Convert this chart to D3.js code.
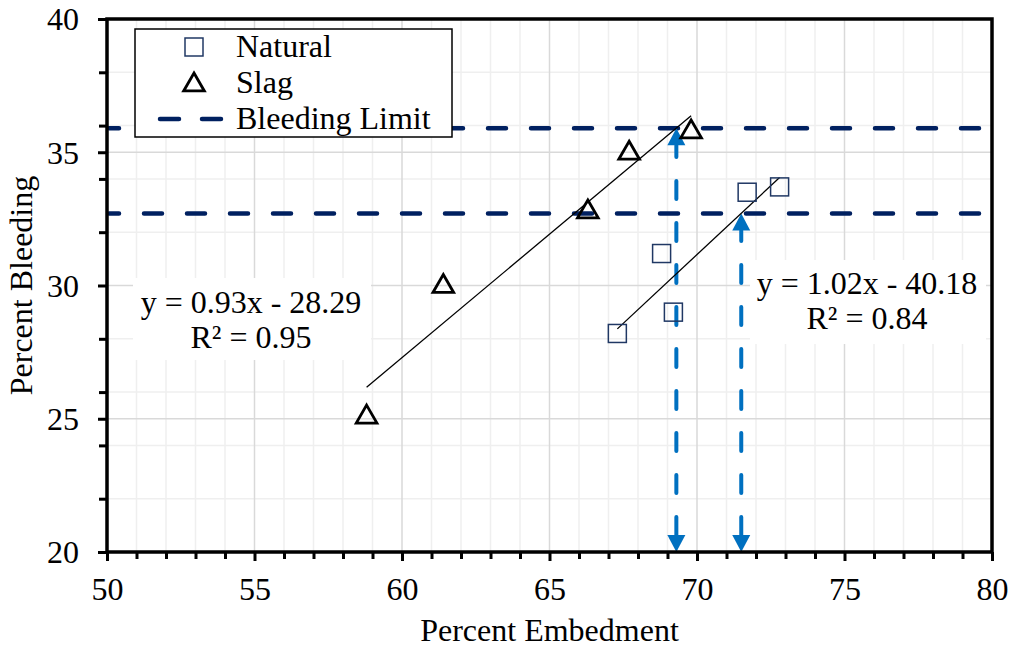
<!DOCTYPE html>
<html><head><meta charset="utf-8">
<script src="https://cdn.jsdelivr.net/npm/d3@7"></script>
<style>
html,body{margin:0;padding:0;background:#fff;}
svg text{font-family:"Liberation Serif","Times New Roman",serif;fill:#000;}
</style></head>
<body>
<svg id="chart" width="1013" height="649"></svg>
<script>
// ---- data ----
const naturalX = [67.3, 68.8, 69.2, 71.7, 72.8];
const naturalY = [28.2, 31.2, 29.0, 33.5, 33.7];
const slagX = [58.8, 61.4, 66.3, 67.7, 69.8];
const slagY = [25.1, 30.0, 32.8, 35.0, 35.8];
const bleedingLimits = [35.9, 32.7];
const arrowX = [69.3, 71.5];
const arrowTop = [35.9, 32.7];
const xMajorTicks = [50, 55, 60, 65, 70, 75, 80];
const yMajorTicks = [20, 25, 30, 35, 40];
const yMinorTicks = [22, 24, 26, 28, 32, 34, 36, 38];
const xMinorTicks = d3.range(50, 81, 1).filter(v => v % 5 !== 0);
const legendLabels = ["Natural", "Slag", "Bleeding Limit"];
const slagEq = ["y = 0.93x - 28.29", "R² = 0.95"];
const naturalEq = ["y = 1.02x - 40.18", "R² = 0.84"];
const xTitle = "Percent Embedment";
const yTitle = "Percent Bleeding";

const svg = d3.select("#chart");
const L = 107, R = 992, T = 19, B = 552;
const x = d3.scaleLinear().domain([50, 80]).range([L, R]);
const y = d3.scaleLinear().domain([20, 40]).range([B, T]);
const FS = 32;
const navy = "#002060", blue = "#0070C0", sqColor = "#203864";

// grid
const grid = svg.append("g");
grid.selectAll(".vmin").data(xMinorTicks).enter().append("line")
  .attr("x1", d => x(d)).attr("x2", d => x(d)).attr("y1", T).attr("y2", B)
  .attr("stroke", "#efefef").attr("stroke-width", 1.5);
grid.selectAll(".hmin").data(yMinorTicks).enter().append("line")
  .attr("y1", d => y(d)).attr("y2", d => y(d)).attr("x1", L).attr("x2", R)
  .attr("stroke", "#efefef").attr("stroke-width", 1.5);
grid.selectAll(".vmaj").data(xMajorTicks).enter().append("line")
  .attr("x1", d => x(d)).attr("x2", d => x(d)).attr("y1", T).attr("y2", B)
  .attr("stroke", "#d9d9d9").attr("stroke-width", 1.5);
grid.selectAll(".hmaj").data(yMajorTicks).enter().append("line")
  .attr("y1", d => y(d)).attr("y2", d => y(d)).attr("x1", L).attr("x2", R)
  .attr("stroke", "#d9d9d9").attr("stroke-width", 1.5);

// bleeding limit lines
svg.selectAll(".limit").data(bleedingLimits).enter().append("line")
  .attr("x1", x(50) + 2).attr("x2", x(80)).attr("y1", d => y(d)).attr("y2", d => y(d))
  .attr("stroke", navy).attr("stroke-width", 4.5).attr("stroke-linecap", "round")
  .attr("stroke-dasharray", "18,25").attr("stroke-dashoffset", 8);

// arrows
const headH = 17, headW = 18;
arrowX.forEach((ax, i) => {
  const px = x(ax), yb = y(20), yt = y(arrowTop[i]);
  svg.append("line").attr("x1", px).attr("x2", px)
    .attr("y1", yb - headH).attr("y2", yt + headH)
    .attr("stroke", blue).attr("stroke-width", 4).attr("stroke-linecap", "round")
    .attr("stroke-dasharray", "18,24");
  svg.append("path").attr("d", `M${px},${yb} L${px - headW / 2},${yb - headH} L${px + headW / 2},${yb - headH}Z`).attr("fill", blue);
  svg.append("path").attr("d", `M${px},${yt} L${px - headW / 2},${yt + headH} L${px + headW / 2},${yt + headH}Z`).attr("fill", blue);
});

// regression trendlines
function fit(xs, ys) {
  const mx = d3.mean(xs), my = d3.mean(ys);
  let sxy = 0, sxx = 0;
  xs.forEach((v, i) => { sxy += (v - mx) * (ys[i] - my); sxx += (v - mx) * (v - mx); });
  const m = sxy / sxx; return { m, b: my - m * mx, x0: d3.min(xs), x1: d3.max(xs) };
}
[fit(slagX, slagY), fit(naturalX, naturalY)].forEach(f => {
  svg.append("line").attr("x1", x(f.x0)).attr("x2", x(f.x1))
    .attr("y1", y(f.m * f.x0 + f.b)).attr("y2", y(f.m * f.x1 + f.b))
    .attr("stroke", "#000").attr("stroke-width", 1.3);
});

// markers
const sq = 18;
svg.selectAll(".nat").data(naturalX).enter().append("rect")
  .attr("x", d => x(d) - sq / 2).attr("y", (d, i) => y(naturalY[i]) - sq / 2)
  .attr("width", sq).attr("height", sq).attr("fill", "none")
  .attr("stroke", sqColor).attr("stroke-width", 1.5);
const tri = d3.symbol().type(d3.symbolTriangle).size(185);
svg.selectAll(".slag").data(slagX).enter().append("path")
  .attr("d", tri).attr("transform", (d, i) => `translate(${x(d)},${y(slagY[i]) + 1})`)
  .attr("fill", "none").attr("stroke", "#000").attr("stroke-width", 2.8);

// equation labels
function eqBox(lines, bx, by, bw, bh, cx, base1, base2) {
  svg.append("rect").attr("x", bx).attr("y", by).attr("width", bw).attr("height", bh).attr("fill", "#fff");
  svg.append("text").attr("x", cx).attr("y", base1).attr("text-anchor", "middle").attr("font-size", FS).text(lines[0]);
  svg.append("text").attr("x", cx).attr("y", base2).attr("text-anchor", "middle").attr("font-size", FS).text(lines[1]);
}
eqBox(slagEq, 133, 278, 238, 82, 251, 313, 348);
eqBox(naturalEq, 750, 260, 236, 84, 867, 294, 329);

// axes frame
const gx = svg.append("g").attr("transform", `translate(0,${B})`);
gx.call(d3.axisBottom(x).tickValues(xMinorTicks).tickSize(7).tickFormat(""));
gx.append("g").call(d3.axisBottom(x).tickValues(xMajorTicks).tickSize(9).tickFormat(d3.format("d")));
const gy = svg.append("g").attr("transform", `translate(${L},0)`);
gy.call(d3.axisLeft(y).tickValues(yMinorTicks).tickSize(8).tickFormat(""));
gy.append("g").call(d3.axisLeft(y).tickValues(yMajorTicks).tickSize(9).tickFormat(d3.format("d")));
svg.selectAll(".domain").remove();
svg.selectAll(".tick line").attr("stroke", "#000").attr("stroke-width", 3);
svg.selectAll(".tick text").attr("font-size", FS).attr("font-family", "Liberation Serif, Times New Roman, serif").attr("fill", "#000");
gx.selectAll(".tick text").attr("y", 25).attr("dy", "0.71em");
gy.selectAll(".tick text").attr("x", -28).attr("dy", "0.34em");
svg.append("rect").attr("x", L).attr("y", T).attr("width", R - L).attr("height", B - T)
  .attr("fill", "none").attr("stroke", "#000").attr("stroke-width", 3.5);

// titles
svg.append("text").attr("x", (L + R) / 2).attr("y", 641).attr("text-anchor", "middle").attr("font-size", FS).text(xTitle);
svg.append("text").attr("transform", `translate(32,${(T + B) / 2}) rotate(-90)`).attr("text-anchor", "middle").attr("font-size", FS).text(yTitle);

// legend
const lg = svg.append("g");
lg.append("rect").attr("x", 135).attr("y", 29).attr("width", 317).attr("height", 108)
  .attr("fill", "#fff").attr("stroke", "#000").attr("stroke-width", 1.5);
const rowBase = [57, 93, 129];
lg.append("rect").attr("x", 194 - sq / 2).attr("y", 47 - sq / 2).attr("width", sq).attr("height", sq)
  .attr("fill", "none").attr("stroke", sqColor).attr("stroke-width", 1.5);
lg.append("path").attr("d", tri).attr("transform", "translate(194,85)")
  .attr("fill", "none").attr("stroke", "#000").attr("stroke-width", 2.8);
lg.append("line").attr("x1", 160).attr("x2", 223).attr("y1", 119).attr("y2", 119)
  .attr("stroke", navy).attr("stroke-width", 4.5).attr("stroke-linecap", "round").attr("stroke-dasharray", "19,23");
legendLabels.forEach((t, i) => {
  lg.append("text").attr("x", 236).attr("y", rowBase[i]).attr("font-size", FS).text(t);
});
</script>
</body></html>
